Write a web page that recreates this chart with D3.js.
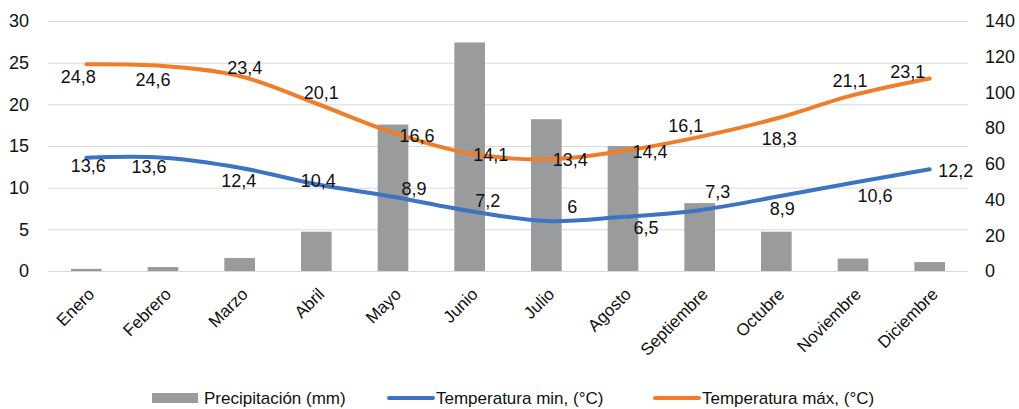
<!DOCTYPE html>
<html>
<head>
<meta charset="utf-8">
<script src="https://cdn.jsdelivr.net/npm/d3@7"></script>
<style>
  body { margin: 0; background: #fff; }
  svg { display: block; font-family: "Liberation Sans", Arial, sans-serif; }
  .grid line { stroke: #d9d9d9; stroke-width: 1; }
  .tick-label { font-size: 18px; fill: #111; }
  .data-label { font-size: 18px; fill: #111; }
  .legend-text { font-size: 17px; fill: #111; }
</style>
</head>
<body>
<svg id="chart" width="1019" height="409"></svg>
<script>
const months = ["Enero", "Febrero", "Marzo", "Abril", "Mayo", "Junio", "Julio", "Agosto", "Septiembre", "Octubre", "Noviembre", "Diciembre"];
const precipitation = [1.2, 2.2, 7.3, 22, 82, 128, 85, 70, 38, 22, 7, 5];
const tempMin = [13.6, 13.6, 12.4, 10.4, 8.9, 7.2, 6, 6.5, 7.3, 8.9, 10.6, 12.2];
const tempMax = [24.8, 24.6, 23.4, 20.1, 16.6, 14.1, 13.4, 14.4, 16.1, 18.3, 21.1, 23.1];
const leftTicks = [0, 5, 10, 15, 20, 25, 30];
const rightTicks = [0, 20, 40, 60, 80, 100, 120, 140];

// label nudges (px) relative to each point
const maxLabelOffsets = [[-8, 12], [-10, 14], [5, -8], [5, -11], [24, 3], [21, 1], [24, 0], [27, 1], [-14, -11], [3, 20], [-3, -14], [-22, -7]];
const minLabelOffsets = [[2, 8], [-14, 9], [-1, 13], [2, -4], [21, -8], [18, -10], [26, -14], [23, 11], [18, -18], [6, 12], [22, 13], [26, 1]];

const colors = { bar: "#999b9d", min: "#3c74c2", max: "#f07d2a" };

const svg = d3.select("#chart");
const margin = { top: 21, right: 51, bottom: 138, left: 48 };
const width = 1019;
const height = 409;
const plotBottom = height - margin.bottom;

const x = d3.scaleBand().domain(months).range([margin.left, width - margin.right]).paddingInner(0);
const yLeft = d3.scaleLinear().domain([0, 30]).range([plotBottom, margin.top]);
const yRight = d3.scaleLinear().domain([0, 140]).range([plotBottom, margin.top]);
const cx = (m) => x(m) + x.bandwidth() / 2;
const fmt = (v) => String(v).replace(".", ",");

svg.append("g")
  .attr("class", "grid")
  .selectAll("line")
  .data(leftTicks)
  .join("line")
  .attr("x1", margin.left)
  .attr("x2", width - margin.right)
  .attr("y1", (d) => yLeft(d) + 0.5)
  .attr("y2", (d) => yLeft(d) + 0.5);

svg.append("g")
  .selectAll("text")
  .data(leftTicks)
  .join("text")
  .attr("class", "tick-label")
  .attr("x", 29)
  .attr("y", (d) => yLeft(d))
  .attr("dy", "0.35em")
  .attr("text-anchor", "end")
  .text((d) => d);

svg.append("g")
  .selectAll("text")
  .data(rightTicks)
  .join("text")
  .attr("class", "tick-label")
  .attr("x", 985)
  .attr("y", (d) => yRight(d))
  .attr("dy", "0.35em")
  .text((d) => d);

const barWidth = x.bandwidth() * 0.4;
svg.append("g")
  .selectAll("rect")
  .data(precipitation)
  .join("rect")
  .attr("x", (d, i) => cx(months[i]) - barWidth / 2)
  .attr("y", (d) => yRight(d))
  .attr("width", barWidth)
  .attr("height", (d) => plotBottom - yRight(d))
  .attr("fill", colors.bar);

svg.append("g")
  .selectAll("text")
  .data(months)
  .join("text")
  .attr("class", "tick-label")
  .attr("text-anchor", "end")
  .attr("transform", (m) => `translate(${cx(m) + 5}, ${plotBottom + 20}) rotate(-45)`)
  .attr("dy", "0.35em")
  .style("font-size", "17px")
  .text((m) => m);

const line = d3.line()
  .x((d, i) => cx(months[i]))
  .y((d) => yLeft(d))
  .curve(d3.curveCatmullRom.alpha(0.5));

function drawSeries(values, color, offsets) {
  svg.append("path")
    .datum(values)
    .attr("d", line)
    .attr("fill", "none")
    .attr("stroke", color)
    .attr("stroke-width", 4)
    .attr("stroke-linecap", "round");

  svg.append("g")
    .selectAll("text")
    .data(values)
    .join("text")
    .attr("class", "data-label")
    .attr("text-anchor", "middle")
    .attr("x", (d, i) => cx(months[i]) + offsets[i][0])
    .attr("y", (d, i) => yLeft(d) + offsets[i][1])
    .attr("dy", "0.35em")
    .text((d) => fmt(d));
}

drawSeries(tempMin, colors.min, minLabelOffsets);
drawSeries(tempMax, colors.max, maxLabelOffsets);

const legendY = 398;
const legend = svg.append("g");
legend.append("rect").attr("x", 152).attr("y", legendY - 5).attr("width", 46).attr("height", 10).attr("fill", colors.bar);
legend.append("text").attr("class", "legend-text").attr("x", 204).attr("y", legendY).attr("dy", "0.35em").text("Precipitación (mm)");
legend.append("line").attr("x1", 389).attr("x2", 433).attr("y1", legendY).attr("y2", legendY)
  .attr("stroke", colors.min).attr("stroke-width", 4).attr("stroke-linecap", "round");
legend.append("text").attr("class", "legend-text").attr("x", 436).attr("y", legendY).attr("dy", "0.35em").text("Temperatura min, (°C)");
legend.append("line").attr("x1", 655).attr("x2", 699).attr("y1", legendY).attr("y2", legendY)
  .attr("stroke", colors.max).attr("stroke-width", 4).attr("stroke-linecap", "round");
legend.append("text").attr("class", "legend-text").attr("x", 702).attr("y", legendY).attr("dy", "0.35em").text("Temperatura máx, (°C)");
</script>
</body>
</html>
